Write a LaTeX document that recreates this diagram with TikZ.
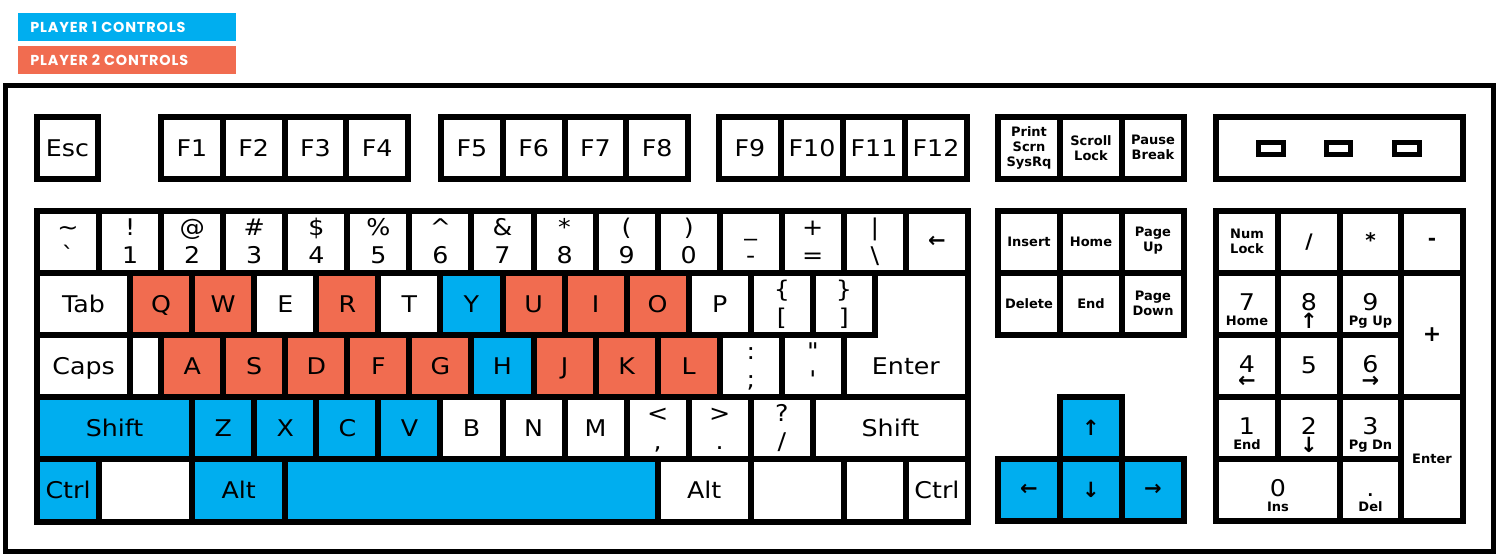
\documentclass[tikz,border=0pt]{standalone}
\usepackage{fontspec}
\newfontfamily\keyfont{DejaVu Sans}[FakeStretch=1.1]
\newfontfamily\navfont{DejaVu Sans}
\newfontfamily\legendfont{Poppins}[LetterSpace=6]
\definecolor{pone}{RGB}{0,174,239}
\definecolor{ptwo}{RGB}{241,108,80}
\tikzset{
  keyline/.style={line width=3pt, line join=miter, draw=black},
  keytxt/.style={anchor=base, inner sep=0pt, font=\keyfont\fontsize{11.5}{12}\selectfont},
  navtxt/.style={anchor=center, inner sep=0pt, align=center, font=\navfont\bfseries\fontsize{6.5}{7.5}\selectfont},
  symtxt/.style={anchor=center, inner sep=0pt, font=\navfont\bfseries\fontsize{10}{12}\selectfont},
  arrtxt/.style={anchor=center, inner sep=0pt, font=\navfont\bfseries\fontsize{10.5}{12}\selectfont},
  legtxt/.style={anchor=west, inner sep=0pt, text=white, font=\legendfont\bfseries\fontsize{7.2}{8}\selectfont},
}
% main block key with one label
\newcommand\K[6][white]{%
  \filldraw[keyline,fill=#1] ({37+#3*62.0667},{211+#5*62.1}) rectangle ({37+#4*62.0667},{211+#5*62.1+62.1});
  \node[keytxt] (#2) at ({37+(#3+#4)*31.0333},{211+#5*62.1+39.35}) {#6};}
% main block key with two labels
\newcommand\KK[7][white]{%
  \filldraw[keyline,fill=#1] ({37+#3*62.0667},{211+#5*62.1}) rectangle ({37+#4*62.0667},{211+#5*62.1+62.1});
  \node[keytxt] (#2t) at ({37+(#3+#4)*31.0333},{211+#5*62.1+24.5}) {#6};
  \node[keytxt] (#2b) at ({37+(#3+#4)*31.0333},{211+#5*62.1+52}) {#7};}
% main block blank key
\newcommand\MB[4][white]{%
  \filldraw[keyline,fill=#1] ({37+#2*62.0667},{211+#4*62.1}) rectangle ({37+#3*62.0667},{211+#4*62.1+62.1});}
% absolute box
\newcommand\B[5][white]{\filldraw[keyline,fill=#1] (#2,#3) rectangle (#4,#5);}
% function key
\newcommand\FK[4]{\B{#2}{117}{#3}{179}\node[keytxt] (#1) at ({(#2+#3)/2},156.3) {#4};}
% numpad keys
\newcommand\NPD[5]{%
  \node[keytxt] (#1d) at (#2,{#3+37}) {#4};
  \node[navtxt,anchor=base] (#1s) at (#2,{#3+52}) {#5};}
\newcommand\NPA[5]{%
  \node[keytxt] (#1d) at (#2,{#3+37}) {#4};
  \node[arrtxt] (#1s) at (#2,{#3+48}) {#5};}
% digit with a horizontal arrow below it, as one text
\newcommand\NPH[5]{%
  \node[keytxt] (#1) at (#2,{#3+37}) {\makebox[0pt]{#4}\makebox[0pt]{\raisebox{-7.9pt}{\navfont\bfseries\fontsize{10.5}{12}\selectfont #5}}};}
\begin{document}
\begin{tikzpicture}[x=0.5pt,y=-0.5pt]
\useasboundingbox (0,0) rectangle (1500,559);
\fill[white] (0,0) rectangle (1500,559);
% legend
\fill[pone] (18,13) rectangle (236,41);
\node[legtxt] (leg1) at (30,27.5) {PLAYER 1 CONTROLS};
\fill[ptwo] (18,46) rectangle (236,74);
\node[legtxt] (leg2) at (30,60.5) {PLAYER 2 CONTROLS};
% keyboard frame
\draw[line width=2.5pt] (5.5,85.5) rectangle (1493.5,551.5);
% function row
\FK{kesc}{37}{98}{Esc}
\FK{kf1}{161}{222.75}{F1}
\FK{kf2}{222.75}{284.5}{F2}
\FK{kf3}{284.5}{346.25}{F3}
\FK{kf4}{346.25}{408}{F4}
\FK{kf5}{441}{502.75}{F5}
\FK{kf6}{502.75}{564.5}{F6}
\FK{kf7}{564.5}{626.25}{F7}
\FK{kf8}{626.25}{688}{F8}
\FK{kf9}{719}{781}{F9}
\FK{kf10}{781}{843}{F10}
\FK{kf11}{843}{905}{F11}
\FK{kf12}{905}{967}{F12}
% number row
\KK{kgrave}{0}{1}{0}{\symbol{"7E}}{\symbol{"60}}
\KK{kone}{1}{2}{0}{!}{1}
\KK{ktwo}{2}{3}{0}{@}{2}
\KK{kthree}{3}{4}{0}{\#}{3}
\KK{kfour}{4}{5}{0}{\$}{4}
\KK{kfive}{5}{6}{0}{\%}{5}
\KK{ksix}{6}{7}{0}{\symbol{"5E}}{6}
\KK{kseven}{7}{8}{0}{\&}{7}
\KK{keight}{8}{9}{0}{*}{8}
\KK{knine}{9}{10}{0}{(}{9}
\KK{kzero}{10}{11}{0}{)}{0}
\KK{kminus}{11}{12}{0}{\_}{-}
\KK{kequal}{12}{13}{0}{+}{=}
\KK{kbslash}{13}{14}{0}{|}{\textbackslash}
\MB{14}{15}{0}
\node[arrtxt] (kback) at ({37+14.5*62.0667},242) {←};
% tab row
\K{ktab}{0}{1.5}{1}{Tab}
\K[ptwo]{kq}{1.5}{2.5}{1}{Q}
\K[ptwo]{kw}{2.5}{3.5}{1}{W}
\K{ke}{3.5}{4.5}{1}{E}
\K[ptwo]{kr}{4.5}{5.5}{1}{R}
\K{kt}{5.5}{6.5}{1}{T}
\K[pone]{ky}{6.5}{7.5}{1}{Y}
\K[ptwo]{ku}{7.5}{8.5}{1}{U}
\K[ptwo]{ki}{8.5}{9.5}{1}{I}
\K[ptwo]{ko}{9.5}{10.5}{1}{O}
\K{kp}{10.5}{11.5}{1}{P}
\KK{klbr}{11.5}{12.5}{1}{\{}{[}
\KK{krbr}{12.5}{13.5}{1}{\}}{]}
% enter (L-shape)
\filldraw[keyline,fill=white] ({37+13.5*62.0667},273.1) -- (968,273.1) -- (968,397.2) -- ({37+13*62.0667},397.2) -- ({37+13*62.0667},335.2) -- ({37+13.5*62.0667},335.2) -- cycle;
\node[keytxt] (kenter) at ({37+14*62.0667},{335.2+39.35}) {Enter};
% caps row
\K{kcaps}{0}{1.5}{2}{Caps}
\MB{1.5}{2}{2}
\K[ptwo]{ka}{2}{3}{2}{A}
\K[ptwo]{ks}{3}{4}{2}{S}
\K[ptwo]{kd}{4}{5}{2}{D}
\K[ptwo]{kf}{5}{6}{2}{F}
\K[ptwo]{kg}{6}{7}{2}{G}
\K[pone]{kh}{7}{8}{2}{H}
\K[ptwo]{kj}{8}{9}{2}{J}
\K[ptwo]{kk}{9}{10}{2}{K}
\K[ptwo]{kl}{10}{11}{2}{L}
\KK{ksemi}{11}{12}{2}{:}{;}
\KK{kquote}{12}{13}{2}{\symbol{"22}}{\symbol{"27}}
% shift row
\K[pone]{klshift}{0}{2.5}{3}{Shift}
\K[pone]{kz}{2.5}{3.5}{3}{Z}
\K[pone]{kx}{3.5}{4.5}{3}{X}
\K[pone]{kc}{4.5}{5.5}{3}{C}
\K[pone]{kv}{5.5}{6.5}{3}{V}
\K{kb}{6.5}{7.5}{3}{B}
\K{kn}{7.5}{8.5}{3}{N}
\K{km}{8.5}{9.5}{3}{M}
\KK{kcomma}{9.5}{10.5}{3}{<}{,}
\KK{kperiod}{10.5}{11.5}{3}{>}{.}
\KK{kslash}{11.5}{12.5}{3}{?}{/}
\K{krshift}{12.5}{15}{3}{Shift}
% bottom row
\K[pone]{klctrl}{0}{1}{4}{Ctrl}
\MB{1}{2.5}{4}
\K[pone]{klalt}{2.5}{4}{4}{Alt}
\MB[pone]{4}{10}{4}
\K{kralt}{10}{11.5}{4}{Alt}
\MB{11.5}{13}{4}
\MB{13}{14}{4}
\K{krctrl}{14}{15}{4}{Ctrl}
% navigation cluster
\B{998}{117}{1060}{179}\B{1060}{117}{1122}{179}\B{1122}{117}{1184}{179}
\node[navtxt] (kprint) at (1029,148) {Print\\Scrn\\SysRq};
\node[navtxt] (kscroll) at (1091,148) {Scroll\\Lock};
\node[navtxt] (kpause) at (1153,147) {Pause\\Break};
\B{998}{211}{1060}{273}\B{1060}{211}{1122}{273}\B{1122}{211}{1184}{273}
\node[navtxt] (kins) at (1029,242) {Insert};
\node[navtxt] (khome) at (1091,242) {Home};
\node[navtxt] (kpgup) at (1153,241) {Page\\Up};
\B{998}{273}{1060}{335}\B{1060}{273}{1122}{335}\B{1122}{273}{1184}{335}
\node[navtxt] (kdel) at (1029,304) {Delete};
\node[navtxt] (kend) at (1091,304) {End};
\node[navtxt] (kpgdn) at (1153,303) {Page\\Down};
% arrows
\B[pone]{1060}{397}{1122}{459}
\B[pone]{998}{459}{1060}{521}\B[pone]{1060}{459}{1122}{521}\B[pone]{1122}{459}{1184}{521}
\node[arrtxt] (kup) at (1091,428) {↑};
\node[arrtxt] (kleft) at (1029,490) {←};
\node[arrtxt] (kdown) at (1091,490) {↓};
\node[arrtxt] (kright) at (1153,490) {→};
% indicator panel
\B{1216}{117}{1463}{179}
\draw[line width=2.5pt] (1258.5,142.5) rectangle (1283.5,154.5);
\draw[line width=2.5pt] (1326.5,142.5) rectangle (1350.8,154.5);
\draw[line width=2.5pt] (1394.2,142.5) rectangle (1419.2,154.5);
% numpad
\B{1216}{211}{1278}{273}\B{1278}{211}{1340}{273}\B{1340}{211}{1401}{273}\B{1401}{211}{1463}{273}
\node[navtxt] (knum) at (1247,241) {Num\\Lock};
\node[symtxt] (kdiv) at (1309,242) {/};
\node[symtxt] (kmul) at (1370.5,240) {*};
\node[symtxt] (ksub) at (1432,242) {-};
\B{1216}{273}{1278}{335}\B{1278}{273}{1340}{335}\B{1340}{273}{1401}{335}
\B{1401}{273}{1463}{397}
\NPD{kpseven}{1247}{273}{7}{Home}
\NPA{kpeight}{1309}{273}{8}{↑}
\NPD{kpnine}{1370.5}{273}{9}{Pg Up}
\node[symtxt,font=\navfont\bfseries\fontsize{11}{12}\selectfont] (kpadd) at (1432,335) {+};
\B{1216}{335}{1278}{397}\B{1278}{335}{1340}{397}\B{1340}{335}{1401}{397}
\NPH{kpfour}{1247}{335}{4}{←}
\node[keytxt] (kpfive) at (1309,373.5) {5};
\NPH{kpsix}{1370.5}{335}{6}{→}
\B{1216}{397}{1278}{459}\B{1278}{397}{1340}{459}\B{1340}{397}{1401}{459}
\B{1401}{397}{1463}{521}
\NPD{kpone}{1247}{397}{1}{End}
\NPA{kptwo}{1309}{397}{2}{↓}
\NPD{kpthree}{1370.5}{397}{3}{Pg Dn}
\node[navtxt] (kpenter) at (1432,459) {Enter};
\B{1216}{459}{1340}{521}\B{1340}{459}{1401}{521}
\NPD{kpzero}{1278}{459}{0}{Ins}
\NPD{kpdot}{1370.5}{459}{.}{Del}
\end{tikzpicture}
\end{document}
